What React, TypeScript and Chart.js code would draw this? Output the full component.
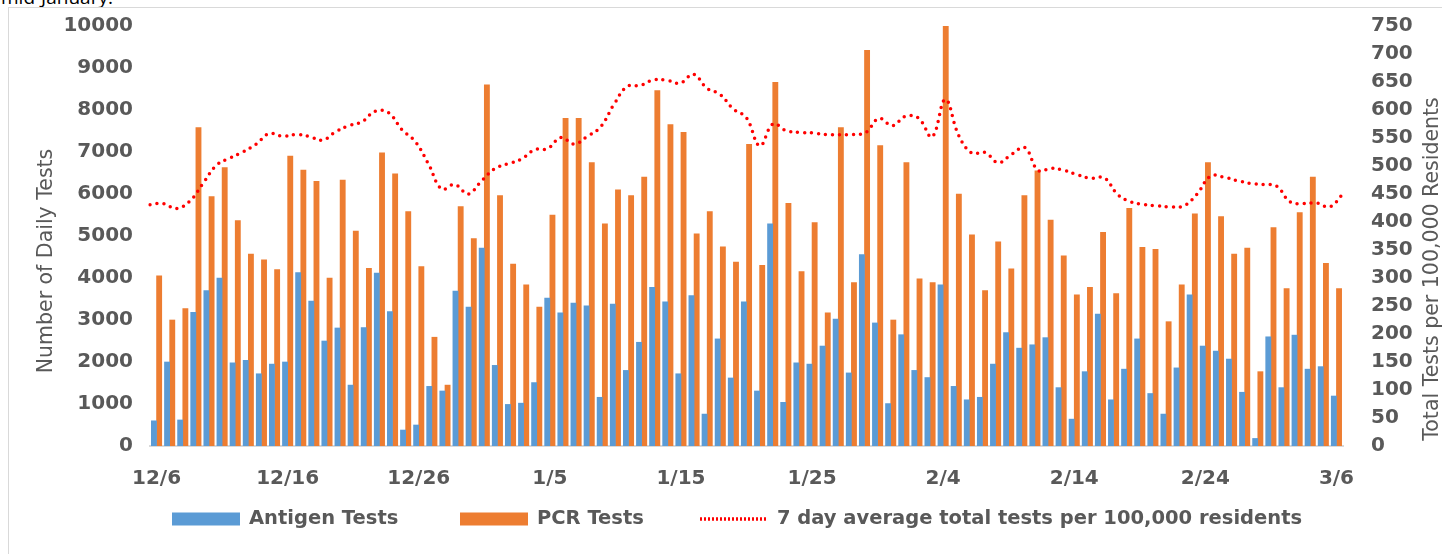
import React, { useEffect, useRef } from "react";
import { Chart, registerables } from "chart.js";

Chart.register(...registerables);

const dates = [
  "12/6", "12/7", "12/8", "12/9", "12/10", "12/11", "12/12", "12/13", "12/14", "12/15",
  "12/16", "12/17", "12/18", "12/19", "12/20", "12/21", "12/22", "12/23", "12/24", "12/25",
  "12/26", "12/27", "12/28", "12/29", "12/30", "12/31", "1/1", "1/2", "1/3", "1/4",
  "1/5", "1/6", "1/7", "1/8", "1/9", "1/10", "1/11", "1/12", "1/13", "1/14",
  "1/15", "1/16", "1/17", "1/18", "1/19", "1/20", "1/21", "1/22", "1/23", "1/24",
  "1/25", "1/26", "1/27", "1/28", "1/29", "1/30", "1/31", "2/1", "2/2", "2/3",
  "2/4", "2/5", "2/6", "2/7", "2/8", "2/9", "2/10", "2/11", "2/12", "2/13",
  "2/14", "2/15", "2/16", "2/17", "2/18", "2/19", "2/20", "2/21", "2/22", "2/23",
  "2/24", "2/25", "2/26", "2/27", "2/28", "3/1", "3/2", "3/3", "3/4", "3/5",
  "3/6",
];

const tickLabels = ["12/6", "12/16", "12/26", "1/5", "1/15", "1/25", "2/4", "2/14", "2/24", "3/6"];

const antigenTests = [
  600, 2000, 620, 3180, 3700, 4000, 1980, 2040, 1720, 1950,
  2000, 4130, 3450, 2500, 2810, 1450, 2820, 4120, 3200, 380,
  500, 1420, 1310, 3690, 3310, 4710, 1920, 990, 1020, 1510,
  3520, 3170, 3400, 3340, 1160, 3380, 1800, 2470, 3780, 3430,
  1720, 3580, 760, 2550, 1620, 3430, 1310, 5290, 1040, 1980,
  1950, 2380, 3020, 1740, 4560, 2930, 1010, 2650, 1800, 1630,
  3840, 1420, 1100, 1160, 1950, 2700, 2330, 2410, 2580, 1390,
  640, 1770, 3140, 1100, 1830, 2550, 1250, 760, 1860, 3600,
  2380, 2260, 2070, 1280, 180, 2600, 1390, 2640, 1830, 1890,
  1190,
];

const pcrTests = [
  4050, 3000, 3270, 7580, 5940, 6630, 5370, 4570, 4430, 4200,
  6900, 6570, 6300, 4000, 6330, 5120, 4230, 6980, 6480, 5580,
  4270, 2590, 1450, 5700, 4940, 8600, 5960, 4330, 3840, 3310,
  5500, 7800, 7800, 6750, 5290, 6100, 5960, 6400, 8460, 7650,
  7470, 5050, 5580, 4740, 4380, 7180, 4300, 8660, 5780, 4150,
  5320, 3170, 7580, 3890, 9420, 7150, 3000, 6750, 3980, 3890,
  10000, 6000, 5030, 3700, 4860, 4220, 5960, 6550, 5380, 4530,
  3600, 3780, 5090, 3630, 5660, 4730, 4680, 2960, 3840, 5530,
  6750, 5460, 4570, 4710, 1770, 5200, 3750, 5560, 6400, 4350,
  3750,
];

const avgPer100k = [
  431, 433, 424, 437, 469, 501, 514, 525, 539, 558,
  553, 556, 553, 546, 561, 572, 579, 598, 595, 565,
  544, 504, 459, 467, 450, 473, 495, 504, 512, 529,
  531, 551, 539, 553, 570, 610, 642, 644, 654, 653,
  648, 664, 639, 628, 602, 586, 536, 575, 563, 560,
  559, 556, 556, 556, 560, 585, 572, 589, 585, 552,
  619, 555, 523, 524, 506, 521, 533, 492, 496, 492,
  484, 478, 479, 449, 436, 431, 429, 427, 429, 450,
  482, 480, 474, 469, 467, 464, 436, 433, 434, 427,
  450,
];

const leftTitle = "Number of Daily Tests";
const rightTitle = "Total Tests per 100,000 Residents";
const lineLabel = "7 day average total tests per 100,000 residents";

const GRAY = "#595959";
const BLUE = "#5B9BD5";
const ORANGE = "#ED7D31";
const RED = "#FF0000";
const FONT = "'DejaVu Sans'";

const overlayPlugin = {
  id: "overlay",
  afterDraw(chart: any) {
    const ctx = chart.ctx as CanvasRenderingContext2D;
    ctx.save();
    ctx.fillStyle = GRAY;
    ctx.font = `20.5px ${FONT}`;
    ctx.textAlign = "center";
    ctx.textBaseline = "middle";
    ctx.translate(47, 261);
    ctx.rotate(-Math.PI / 2);
    ctx.fillText(leftTitle, 0, 0);
    ctx.restore();

    ctx.save();
    ctx.fillStyle = GRAY;
    ctx.font = `20.5px ${FONT}`;
    ctx.textAlign = "center";
    ctx.textBaseline = "middle";
    ctx.translate(1433, 269);
    ctx.rotate(-Math.PI / 2);
    ctx.fillText(rightTitle, 0, 0);
    ctx.restore();

    const ds = chart.data.datasets;
    const items = [
      { ds: ds[1], x: 172 },
      { ds: ds[2], x: 460 },
      { ds: ds[0], x: 700 },
    ];
    const cy = 519;
    ctx.save();
    ctx.font = `bold 19.5px ${FONT}`;
    ctx.textBaseline = "middle";
    ctx.textAlign = "left";
    for (const it of items) {
      if (it.ds.type === "line") {
        ctx.save();
        ctx.strokeStyle = it.ds.borderColor;
        ctx.lineWidth = 3.5;
        ctx.setLineDash([2, 2]);
        ctx.beginPath();
        ctx.moveTo(it.x, cy);
        ctx.lineTo(it.x + 68, cy);
        ctx.stroke();
        ctx.restore();
      } else {
        ctx.fillStyle = it.ds.backgroundColor;
        ctx.fillRect(it.x, cy - 6.5, 68, 13);
      }
      ctx.fillStyle = GRAY;
      ctx.fillText(it.ds.label, it.x + 77, cy);
    }
    ctx.restore();
  },
};

export default function App() {
  const ref = useRef<HTMLCanvasElement>(null);

  useEffect(() => {
    const canvas = ref.current;
    if (!canvas) return;
    const tickFont = { family: FONT, size: 20, weight: "bold" as const };
    const chart = new Chart(canvas, {
      type: "bar",
      data: {
        labels: dates,
        datasets: [
          {
            type: "line" as const,
            label: lineLabel,
            data: avgPer100k,
            yAxisID: "y1",
            xAxisID: "x2",
            borderColor: RED,
            backgroundColor: RED,
            borderWidth: 3.5,
            borderDash: [0, 7],
            borderCapStyle: "round",
            pointRadius: 0,
            tension: 0.4,
            fill: false,
            order: 0,
          } as any,
          {
            type: "bar" as const,
            label: "Antigen Tests",
            data: antigenTests,
            backgroundColor: BLUE,
            yAxisID: "y",
            xAxisID: "x",
            barThickness: 5.2,
            order: 1,
          },
          {
            type: "bar" as const,
            label: "PCR Tests",
            data: pcrTests,
            backgroundColor: ORANGE,
            yAxisID: "y",
            xAxisID: "x",
            barThickness: 5.2,
            order: 1,
          },
        ],
      },
      options: {
        responsive: false,
        animation: false,
        devicePixelRatio: 1,
        layout: { padding: { top: 26, left: 0, right: 0, bottom: 0 } },
        plugins: {
          legend: { display: false },
          tooltip: { enabled: false },
        },
        scales: {
          x: {
            type: "category",
            offset: true,
            grid: { display: false, drawTicks: false },
            border: { display: true, color: "#D9D9D9", width: 2 },
            ticks: {
              autoSkip: false,
              maxRotation: 0,
              minRotation: 0,
              padding: 21,
              color: GRAY,
              font: tickFont,
              callback: (_v: any, i: number) => (tickLabels.includes(dates[i]) ? dates[i] : ""),
            },
            afterFit: (s: any) => {
              s.height = 108;
            },
          },
          x2: {
            type: "category",
            display: false,
            offset: false,
          },
          y: {
            position: "left",
            min: 0,
            max: 10000,
            grid: { display: false, drawTicks: false },
            border: { display: false },
            ticks: {
              stepSize: 1000,
              padding: 17,
              color: GRAY,
              font: tickFont,
              callback: (v: any) => String(v),
            },
            afterFit: (s: any) => {
              s.width = 150;
              s.paddingTop = 0;
              s.paddingBottom = 0;
            },
          },
          y1: {
            position: "right",
            min: 0,
            max: 750,
            grid: { display: false, drawTicks: false },
            border: { display: false },
            ticks: {
              stepSize: 50,
              autoSkip: false,
              padding: 28,
              color: GRAY,
              font: tickFont,
              callback: (v: any) => String(v),
            },
            afterFit: (s: any) => {
              s.width = 99;
              s.paddingTop = 0;
              s.paddingBottom = 0;
            },
          },
        } as any,
      },
      plugins: [overlayPlugin],
    });
    return () => chart.destroy();
  }, []);

  return (
    <div
      style={{
        position: "absolute",
        left: 0,
        top: 0,
        width: 1442,
        height: 554,
        overflow: "hidden",
        background: "#fff",
      }}
    >
      <div
        style={{
          position: "absolute",
          left: 1,
          top: -13,
          fontFamily: "'Open Sans'",
          fontSize: 19,
          lineHeight: "20px",
          color: "#000",
          whiteSpace: "nowrap",
        }}
      >
        mid-January.
      </div>
      <div
        style={{
          position: "absolute",
          left: 8,
          top: 7,
          width: 1434,
          height: 547,
          borderLeft: "1px solid #D9D9D9",
          borderTop: "1px solid #D9D9D9",
          boxSizing: "border-box",
        }}
      />
      <canvas
        ref={ref}
        width={1442}
        height={554}
        style={{ position: "absolute", left: 0, top: 0, width: 1442, height: 554 }}
      />
    </div>
  );
}
